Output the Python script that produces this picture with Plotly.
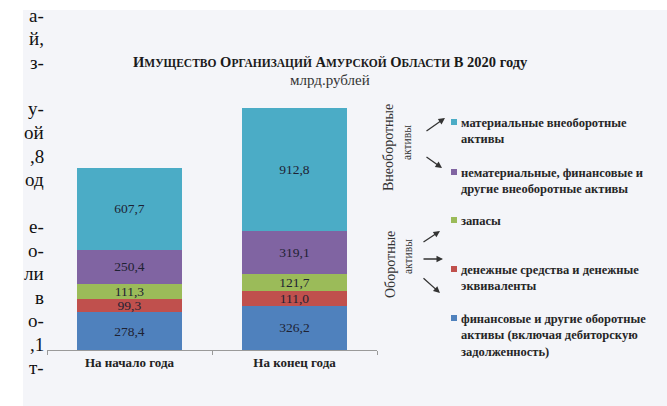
import plotly.graph_objects as go

# ---- data ----
categories = ["На начало года", "На конец года"]
series_names = [
    "финансовые и другие оборотные<br>активы (включая дебиторскую<br>задолженность)",
    "денежные средства и денежные<br>эквиваленты",
    "запасы",
    "нематериальные, финансовые и<br>другие внеоборотные активы",
    "материальные внеоборотные<br>активы",
]
fin_other = [278.4, 326.2]
cash = [99.3, 111.0]
stocks = [111.3, 121.7]
intangible = [250.4, 319.1]
tangible = [607.7, 912.8]
series_values = [fin_other, cash, stocks, intangible, tangible]
colors = ["#4F81BD", "#C0504D", "#9BBB59", "#8064A2", "#4BACC6"]

side_text_lines = ["а-", "й,", "з-", "", "у-", "ой", ",8", "од", "", "е-", "о-", "ли", "в", "о-", ",1", "т-"]

# ---- geometry helpers (pixel -> paper) ----
W, H = 667, 406
L, R, T, B = 47, 377, 39, 350


def px(x):
    return (x - L) / (R - L)


def py(y):
    return (B - y) / (B - T)


SERIF = '"Liberation Serif", "DejaVu Serif", serif'
fig = go.Figure()
for name, vals, col in zip(series_names, series_values, colors):
    fig.add_trace(go.Bar(
        x=categories, y=vals, name=name,
        marker=dict(color=col, line=dict(width=0)),
        text=[f"{v:.1f}".replace(".", ",") for v in vals],
        textposition="inside", insidetextanchor="middle", textangle=0,
        textfont=dict(family=SERIF, size=13.5, color="#1e2233"),
        showlegend=False, hoverinfo="skip",
    ))

annotations = []
shapes = []

# background panel
shapes.append(dict(type="rect", xref="paper", yref="paper", layer="below",
                   x0=px(23), x1=px(667), y0=py(406), y1=py(10),
                   fillcolor="#f4f5f9", line=dict(width=0)))

# left page fragment text
for i, t in enumerate(side_text_lines):
    if not t:
        continue
    annotations.append(dict(xref="paper", yref="paper", x=px(46), y=py(15 + 23.5 * i),
                            xanchor="right", yanchor="middle", showarrow=False, text=t,
                            font=dict(family=SERIF, size=19, color="#111111")))

# title (small caps)
def sc(word, small=11.5):
    return word[0] + f"<span style='font-size:{small}px'>{word[1:]}</span>"

title_txt = "<b>" + " ".join(sc(w) for w in ["ИМУЩЕСТВО", "ОРГАНИЗАЦИЙ", "АМУРСКОЙ", "ОБЛАСТИ"]) + " В 2020 году</b>"
annotations.append(dict(xref="paper", yref="paper", x=px(330), y=py(62), xanchor="center", yanchor="middle",
                        showarrow=False, text=title_txt,
                        font=dict(family=SERIF, size=14.5, color="#1a1a1a")))
annotations.append(dict(xref="paper", yref="paper", x=px(330), y=py(80), xanchor="center", yanchor="middle",
                        showarrow=False, text="млрд.рублей",
                        font=dict(family=SERIF, size=15, color="#333333")))

# legend (manual)
legend_y = {4: 122, 3: 172, 2: 220, 1: 269, 0: 318}
for idx, yy in legend_y.items():
    shapes.append(dict(type="rect", xref="paper", yref="paper",
                       x0=px(451), x1=px(457), y0=py(yy + 3), y1=py(yy - 3),
                       fillcolor=colors[idx], line=dict(width=0)))
    annotations.append(dict(xref="paper", yref="paper", x=px(459), y=py(yy - 8), xanchor="left", yanchor="top",
                            align="left", showarrow=False, text="<b>" + series_names[idx].replace("<br>", "</b><br><b>") + "</b>",
                            font=dict(family=SERIF, size=12.5, color="#262626")))

# group labels
for txt, x, y, size in [("Внеоборотные", 388, 148, 14), ("активы", 407, 143, 11.5),
                        ("Оборотные", 390, 265, 14), ("активы", 408, 257, 11.5)]:
    annotations.append(dict(xref="paper", yref="paper", x=px(x), y=py(y), xanchor="center", yanchor="middle",
                            showarrow=False, text=txt, textangle=-90,
                            font=dict(family=SERIF, size=size, color="#333333")))

# arrows (tail -> head)
for (x0, y0, x1, y1) in [(425, 132, 445, 118), (425, 156, 442, 168),
                         (422, 243, 440, 231), (422, 259, 443, 259), (422, 277, 440, 293)]:
    annotations.append(dict(xref="paper", yref="paper", x=px(x1), y=py(y1), ax=x0 - x1, ay=y0 - y1,
                            showarrow=True, arrowhead=2, arrowsize=1, arrowwidth=1.3,
                            arrowcolor="#333333", text="", standoff=0, startstandoff=0))

fig.update_layout(
    width=W, height=H,
    margin=dict(l=L, r=W - R, t=T, b=H - B, pad=0),
    paper_bgcolor="white", plot_bgcolor="rgba(0,0,0,0)",
    barmode="stack", bargap=0.36,
    uniformtext=dict(mode="show", minsize=13.5),
    annotations=annotations, shapes=shapes,
    xaxis=dict(range=[-0.5, 1.5], showline=True, linecolor="#9a9a9a", linewidth=1,
               ticks="outside", tickson="boundaries", ticklen=4, tickcolor="#9a9a9a",
               tickfont=dict(family=SERIF, size=13, color="#222222"), showgrid=False,
               fixedrange=True),
    yaxis=dict(range=[0, 2300], visible=False, showgrid=False, fixedrange=True),
)
fig.update_xaxes(tickvals=[0, 1], ticktext=["<b>На начало года</b>", "<b>На конец года</b>"])

fig.write_html("out.html", config={"displayModeBar": False, "staticPlot": True},
               post_script="document.body.style.margin='0';")
